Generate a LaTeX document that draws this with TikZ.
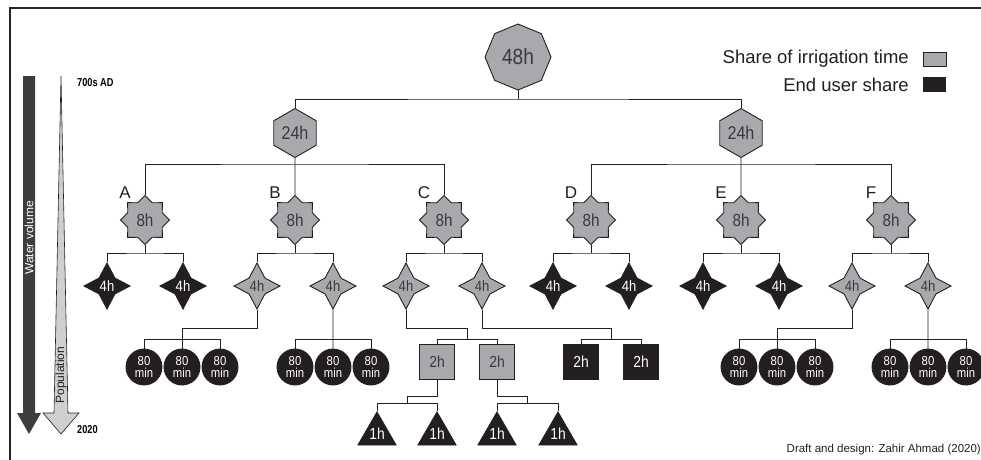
\documentclass[tikz,border=0pt]{standalone}
\usepackage{fontspec}
\setmainfont{Liberation Sans}
\newfontfamily\nfont{Liberation Sans}[FakeStretch=0.87]
\newfontfamily\cfont{Liberation Sans}[FakeStretch=0.8]
\usetikzlibrary{shapes.geometric,calc}
\definecolor{shgray}{HTML}{A7A9AC}
\definecolor{shblack}{HTML}{231F20}
\definecolor{txgray}{HTML}{3A3A3A}
\definecolor{arrdark}{HTML}{3D3D3D}
\definecolor{arrlight}{HTML}{CFCFCF}
\begin{document}
\begin{tikzpicture}[x=1pt,y=-1pt,
  conn/.style={draw=shblack, line width=0.9pt},
  gfill/.style={fill=shgray, draw=shblack, line width=0.9pt, text=txgray},
  bfill/.style={fill=shblack, draw=shblack, line width=0.9pt, text=white},
  octbox/.style={regular polygon, regular polygon sides=8, shape border rotate=22.5, minimum size=66pt, inner sep=0pt, gfill, font=\nfont\fontsize{22}{22}\selectfont},
  hexbox/.style={regular polygon, regular polygon sides=6, shape border rotate=30, minimum size=49pt, inner sep=0pt, gfill, font=\nfont\fontsize{18.5}{18.5}\selectfont},
  eightstar/.style={star, star points=8, star point ratio=1.31, minimum size=49pt, inner sep=0pt, gfill, font=\nfont\fontsize{17.5}{17.5}\selectfont},
  fourstar/.style={star, star points=4, star point ratio=2.05, minimum size=46pt, inner sep=0pt, font=\nfont\fontsize{15}{15}\selectfont},
  sqbox/.style={rectangle, minimum size=35pt, inner sep=0pt, font=\nfont\fontsize{16}{16}\selectfont},
  circbox/.style={circle, minimum size=36pt, inner sep=0pt, bfill, align=center, font=\nfont\fontsize{13}{12.5}\selectfont},
  tribox/.style={regular polygon, regular polygon sides=3, minimum size=44pt, inner sep=0pt, bfill, font=\nfont\fontsize{16}{16}\selectfont},
  lbl/.style={inner sep=0pt, text=shblack, font=\fontsize{17}{17}\selectfont},
]
\useasboundingbox (0,0) rectangle (981,459);
\clip (0,0) rectangle (981,459);

% frame
\draw[line width=1.3pt, draw=black!85] (10,460) -- (10,8) -- (982,8);

% left arrows
\fill[arrdark] (23,76) -- (35,76) -- (35,413) -- (41,413) -- (29,434) -- (17,413) -- (23,413) -- cycle;
\draw[fill=arrlight, draw=shblack, line width=0.6pt] (61,76) -- (68,413) -- (79,413) -- (61,434) -- (43,413) -- (54,413) -- cycle;
\node[rotate=90, text=white, inner sep=0pt, font=\fontsize{12}{12}\selectfont] (wv) at (29,238) {Water volume};
\node[rotate=90, text=shblack, inner sep=0pt, font=\fontsize{12}{12}\selectfont] (pop) at (61,375) {Population};
\node[anchor=base west, inner sep=0pt, font=\cfont\bfseries\fontsize{11.5}{11.5}\selectfont] (y700) at (77,86) {700s AD};
\node[anchor=base west, inner sep=0pt, font=\cfont\bfseries\fontsize{11.5}{11.5}\selectfont] (y2020) at (77,433) {2020};

% legend
\node[anchor=base east, inner sep=0pt, text=shblack, font=\fontsize{18.5}{18.5}\selectfont] (leg1) at (909,63) {Share of irrigation time};
\node[anchor=base east, inner sep=0pt, text=shblack, font=\fontsize{18.5}{18.5}\selectfont] (leg2) at (909,91) {End user share};
\node[draw=shblack, fill=shgray, line width=0.8pt, minimum width=23pt, minimum height=14pt, inner sep=0pt] (key1) at (934.5,59) {};
\node[fill=shblack, minimum width=23pt, minimum height=15pt, inner sep=0pt] (key2) at (934.5,84.5) {};

\node[anchor=base east, inner sep=0pt, text=shblack, font=\fontsize{11.5}{11.5}\selectfont] (credit) at (981,452) {Draft and design: Zahir Ahmad (2020)};

% level 1-2
\node[octbox] (t48) at (518,57) {48h};
\node[hexbox] (h1) at (295,133) {24h};
\node[hexbox] (h2) at (741,133) {24h};

% level 3
\node[eightstar] (sA) at (145,220) {8h};
\node[eightstar] (sB) at (295,220) {8h};
\node[eightstar] (sC) at (444,220) {8h};
\node[eightstar] (sD) at (591,220) {8h};
\node[eightstar] (sE) at (741,220) {8h};
\node[eightstar] (sF) at (891,220) {8h};
\node[lbl] (lA) at (125,193) {A};
\node[lbl] (lB) at (275,193) {B};
\node[lbl] (lC) at (424,193) {C};
\node[lbl] (lD) at (571,193) {D};
\node[lbl] (lE) at (721,193) {E};
\node[lbl] (lF) at (871,193) {F};

% level 4
\node[fourstar, bfill] (qA1) at (107,286) {4h};
\node[fourstar, bfill] (qA2) at (183,286) {4h};
\node[fourstar, gfill] (qB1) at (257,286) {4h};
\node[fourstar, gfill] (qB2) at (333,286) {4h};
\node[fourstar, gfill] (qC1) at (406,286) {4h};
\node[fourstar, gfill] (qC2) at (482,286) {4h};
\node[fourstar, bfill] (qD1) at (553,286) {4h};
\node[fourstar, bfill] (qD2) at (629,286) {4h};
\node[fourstar, bfill] (qE1) at (703,286) {4h};
\node[fourstar, bfill] (qE2) at (779,286) {4h};
\node[fourstar, gfill] (qF1) at (852,286) {4h};
\node[fourstar, gfill] (qF2) at (928,286) {4h};

% level 5
\node[circbox] (cB1a) at (144,367) {80\\min};
\node[circbox] (cB1b) at (182,367) {80\\min};
\node[circbox] (cB1c) at (220,367) {80\\min};
\node[circbox] (cB2a) at (295,367) {80\\min};
\node[circbox] (cB2b) at (333,367) {80\\min};
\node[circbox] (cB2c) at (371,367) {80\\min};
\node[circbox] (cF1a) at (739,367) {80\\min};
\node[circbox] (cF1b) at (777,367) {80\\min};
\node[circbox] (cF1c) at (815,367) {80\\min};
\node[circbox] (cF2a) at (890,367) {80\\min};
\node[circbox] (cF2b) at (928,367) {80\\min};
\node[circbox] (cF2c) at (966,367) {80\\min};
\node[sqbox, gfill] (sq1) at (437,362) {2h};
\node[sqbox, gfill] (sq2) at (497,362) {2h};
\node[sqbox, bfill] (sq3) at (581,362) {2h};
\node[sqbox, bfill] (sq4) at (641,362) {2h};

% level 6
\node[tribox] (tr1) at (377,434) {1h};
\node[tribox] (tr2) at (437,434) {1h};
\node[tribox] (tr3) at (497,434) {1h};
\node[tribox] (tr4) at (558,434) {1h};

% midpoints
\coordinate (mC1) at ($(sq1.north)!0.5!(sq2.north)$);
\coordinate (mC2) at ($(sq3.north)!0.5!(sq4.north)$);
\coordinate (mT1) at ($(tr1.north)!0.5!(tr2.north)$);
\coordinate (mT2) at ($(tr3.north)!0.5!(tr4.north)$);

% connectors level 1-2
\draw[conn] (t48.south) -- (t48.south |- 0,99);
\draw[conn] (h1.north) |- (t48.south |- 0,99) -| (h2.north);
% level 2-3
\draw[conn] (h1.south) -- (sB.north);
\draw[conn] (sA.north) |- (sB.north |- 0,164) -| (sC.north);
\draw[conn] (h2.south) -- (sE.north);
\draw[conn] (sD.north) |- (sE.north |- 0,164) -| (sF.north);
% level 3-4
\foreach \s/\a/\b in {sA/qA1/qA2, sB/qB1/qB2, sC/qC1/qC2, sD/qD1/qD2, sE/qE1/qE2, sF/qF1/qF2}{
  \draw[conn] (\s.south) -- (\s.south |- 0,253);
  \draw[conn] (\a.north) |- (\s.south |- 0,253) -| (\b.north);
}
% level 4-5
\draw[conn] (qB1.south) |- (cB1b.north |- 0,328) -- (cB1b.north);
\draw[conn] (cB1a.north) |- (cB1b.north |- 0,339) -| (cB1c.north);
\draw[conn] (qB2.south) -- (cB2b.north);
\draw[conn] (cB2a.north) |- (cB2b.north |- 0,339) -| (cB2c.north);
\draw[conn] (qF1.south) |- (cF1b.north |- 0,328) -- (cF1b.north);
\draw[conn] (cF1a.north) |- (cF1b.north |- 0,339) -| (cF1c.north);
\draw[conn] (qF2.south) -- (cF2b.north);
\draw[conn] (cF2a.north) |- (cF2b.north |- 0,339) -| (cF2c.north);
\draw[conn] (qC1.south) |- (mC1 |- 0,328) -- (mC1 |- 0,339);
\draw[conn] (sq1.north) |- (mC1 |- 0,339) -| (sq2.north);
\draw[conn] (qC2.south) |- (mC2 |- 0,328) -- (mC2 |- 0,339);
\draw[conn] (sq3.north) |- (mC2 |- 0,339) -| (sq4.north);
% level 5-6
\draw[conn] (sq1.south) |- (mT1 |- 0,396) -- (mT1 |- 0,403);
\draw[conn] (tr1.north) |- (mT1 |- 0,403) -| (tr2.north);
\draw[conn] (sq2.south) |- (mT2 |- 0,396) -- (mT2 |- 0,403);
\draw[conn] (tr3.north) |- (mT2 |- 0,403) -| (tr4.north);
\end{tikzpicture}
\end{document}
